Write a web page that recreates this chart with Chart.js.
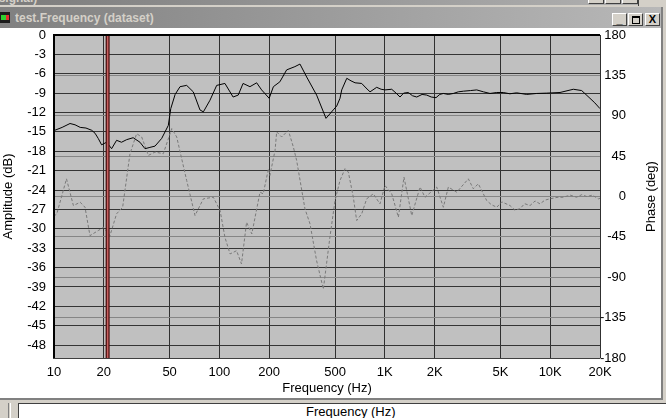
<!DOCTYPE html>
<html>
<head>
<meta charset="utf-8">
<script src="https://cdn.jsdelivr.net/npm/chart.js@4.4.1/dist/chart.umd.min.js"></script>
<style>
html,body{margin:0;padding:0;}
body{width:666px;height:418px;overflow:hidden;background:#d4d0c8;position:relative;font-family:'Liberation Sans',Arial,sans-serif;}
.abs{position:absolute;}
#pbar{left:0;top:0;width:638px;height:5px;background:linear-gradient(to right,#7c7c7c,#b0b0b0);overflow:hidden;}
#pbar span{position:absolute;left:-30px;top:-9px;font:bold 12px 'Liberation Sans',Arial,sans-serif;color:#d4d0c8;white-space:nowrap;}
#pline{left:638px;top:0;width:1px;height:6px;background:#404040;}
.pbtn{top:-10px;width:14px;height:12px;background:#d4d0c8;border-top:1px solid #fff;border-left:1px solid #fff;border-right:1px solid #404040;border-bottom:1px solid #404040;}
#cbar{left:0;top:7px;width:661px;height:21px;background:linear-gradient(to right,#808080,#b8b8b8);}
#ctitle{left:15px;top:10px;font:bold 12px 'Liberation Sans',Arial,sans-serif;color:#d4d0c8;white-space:nowrap;line-height:16px;}
#icon{left:0;top:12px;width:10px;height:11px;background:#1a1a1a;}
#icon i{position:absolute;left:1px;top:3px;width:5px;height:5px;background:#2fd02f;}
#icon b{position:absolute;left:6px;top:3px;width:3px;height:5px;background:#e03030;}
.btn{top:13px;width:13px;height:11px;background:#d4d0c8;border-top:1px solid #fff;border-left:1px solid #fff;border-right:1px solid #404040;border-bottom:1px solid #404040;font:bold 11px 'Liberation Sans',Arial,sans-serif;color:#000;text-align:center;line-height:11px;}
#client{left:0;top:28px;width:661px;height:370px;background:#fff;}
#rb1{left:661px;top:7px;width:2px;height:393px;background:#808080;}
#bb{left:0;top:398px;width:663px;height:2px;background:#808080;}
#bb2{left:0;top:400px;width:666px;height:3px;background:#d4d0c8;}
#bpanel{left:18px;top:403px;width:648px;height:15px;background:#fff;border-top:1px solid #404040;border-left:1px solid #404040;overflow:hidden;}
#bpanel span{position:absolute;left:287px;top:0px;font:13px 'Liberation Sans',Arial,sans-serif;color:#000;white-space:nowrap;}
#lcol1{left:8px;top:403px;width:1px;height:15px;background:#808080;}
#lcol2{left:10px;top:403px;width:1px;height:15px;background:#fff;}
#chart{left:0;top:30px;}
</style>
</head>
<body>
<div class="abs" id="pbar"><span>test (signal)</span></div>
<div class="abs pbtn" style="left:588px"></div>
<div class="abs pbtn" style="left:605px"></div>
<div class="abs pbtn" style="left:622px"></div>
<div class="abs" id="pline"></div>
<div class="abs" id="cbar"></div>
<div class="abs" id="icon"><i></i><b></b></div>
<div class="abs" id="ctitle">test.Frequency (dataset)</div>
<div class="abs btn" style="left:612px">_</div>
<div class="abs btn" style="left:628px"><div style="position:absolute;left:3px;top:2px;width:6px;height:5px;border:1px solid #000;border-top-width:2px;"></div></div>
<div class="abs btn" style="left:645px">X</div>
<div class="abs" id="client"></div>
<div class="abs" id="rb1"></div>
<div class="abs" id="bb"></div>
<div class="abs" id="bb2"></div>
<div class="abs" id="lcol1"></div>
<div class="abs" id="lcol2"></div>
<div class="abs" id="bpanel"><span>Frequency (Hz)</span></div>
<canvas class="abs" id="chart" width="661" height="368"></canvas>
<script>
// ---- data ----
const X_TICKS = [10, 20, 50, 100, 200, 500, 1000, 2000, 5000, 10000, 20000];
const X_LABELS = ['10', '20', '50', '100', '200', '500', '1K', '2K', '5K', '10K', '20K'];
const AMP_TICKS = [0, -3, -6, -9, -12, -15, -18, -21, -24, -27, -30, -33, -36, -39, -42, -45, -48];
const PHASE_TICKS = [180, 135, 90, 45, 0, -45, -90, -135, -180];
const CURSOR_HZ = 21.1;

const AMP_FREQ = [10, 11.2, 12.5, 13.4, 14.4, 15.6, 16.9, 17.7, 18.5, 19.4, 20.8, 22.3, 23.9, 25.6, 27.5, 30.1, 33.1, 35.5, 38, 40.8, 44.8, 49.1, 50.8, 54, 57.8, 63.4, 69.5, 76.3, 80, 87.7, 96.3, 108, 121, 130, 139, 153, 168, 180, 200, 212, 232, 255, 286, 307, 337, 387, 441, 488, 512, 536, 549, 589, 625, 661, 725, 770, 814, 893, 950, 1002, 1101, 1170, 1236, 1300, 1387, 1470, 1560, 1680, 1792, 1910, 2040, 2150, 2259, 2420, 2596, 2780, 2985, 3300, 3595, 3950, 4325, 4750, 5202, 5700, 6266, 7208, 8280, 9500, 11460, 13800, 15490, 17400, 18600, 20000];
const AMP_DB = [-14.8, -14.3, -13.7, -13.9, -14.3, -14.4, -14.75, -15.2, -16.0, -17.0, -16.6, -17.6, -16.3, -16.6, -16.2, -15.9, -16.6, -17.6, -17.4, -17.2, -16.0, -14.0, -11.4, -9.2, -8.0, -7.8, -8.8, -11.6, -11.9, -10.1, -7.8, -7.5, -9.6, -9.3, -7.5, -8.0, -7.4, -8.5, -9.8, -8.0, -7.25, -5.4, -4.9, -4.5, -6.5, -9.3, -12.9, -11.6, -11.0, -9.8, -8.5, -6.7, -7.1, -7.4, -7.5, -8.2, -8.8, -8.1, -8.4, -8.5, -8.4, -9.0, -9.6, -9.0, -8.9, -9.4, -9.6, -9.2, -9.3, -9.6, -9.7, -9.2, -9.05, -9.2, -9.05, -8.8, -8.7, -8.6, -8.5, -8.8, -9.05, -8.9, -8.9, -9.1, -8.95, -9.2, -9.05, -9.0, -8.9, -8.4, -8.6, -9.8, -10.5, -11.4];

const PHASE_FREQ = [10, 10.4, 11.9, 13.1, 14.4, 15.4, 16.5, 18.5, 19.9, 21.8, 23.9, 26.0, 28.8, 31.6, 33.9, 37.2, 40.8, 45.8, 51.5, 55.2, 63.4, 71.2, 80.0, 91.9, 101, 108, 116, 127, 136, 146, 157, 176, 184, 198, 202, 217, 222, 238, 261, 280, 293, 329, 353, 387, 425, 466, 500, 536, 575, 602, 645, 676, 725, 777, 852, 935, 1002, 1101, 1208, 1306, 1455, 1633, 1750, 2060, 2259, 2422, 2722, 3199, 3429, 3675, 4130, 4400, 4750, 5100, 5715, 6100, 6565, 7000, 7550, 8100, 8670, 9300, 9970, 11000, 12000, 13200, 14450, 15500, 16630, 18000, 19540, 20000];
const PHASE_DEG = [-22, -19.3, 19.7, -10.1, -6.4, -12, -43.6, -38, -34.3, -43.6, -19.3, -12, 47.7, 70, 66.3, 45.8, 49.5, 47.7, 75.7, 66.3, 17.9, -21.2, -2.6, -0.8, -15.7, -45.5, -64, -60.4, -75.2, -28.7, -41.7, 4.8, 3, 31, 23.5, 51.4, 72, 66.3, 73.8, 55.1, 40.3, -13.7, -30.5, -71.6, -103.2, -45, -4.5, 17.9, 31, 27.2, -0.8, -26.8, -19.3, -2.6, 3, -8.2, 12.3, 3, -23.1, 21.6, -21.2, 10.5, -0.8, 10.5, -12, 10.5, 4.8, 19.7, 8.6, 14.2, -4.5, -9, -12, -6, -10.1, -15, -13.7, -8, -10.1, -5, -8.2, -4, -2.6, -1, -0.8, 1.5, -0.8, 2, 0, 1.5, -2.6, -2];

// ---- chart ----
const FONT = {family: "'Liberation Sans',Arial,sans-serif", size: 13};
const pts = (xs, ys) => xs.map((x, i) => ({x: x, y: ys[i]}));

const chromePlugin = {
  id: 'chrome',
  beforeDraw(chart) {
    const a = chart.chartArea, c = chart.ctx;
    c.save();
    c.fillStyle = '#c0c0c0';
    c.fillRect(a.left, a.top, a.right - a.left, a.bottom - a.top);
    c.restore();
  },
  afterDraw(chart) {
    const a = chart.chartArea, c = chart.ctx;
    c.save();
    c.fillStyle = '#000';
    c.fillRect(a.left - 1, a.top - 1, a.right - a.left + 1, 2);
    c.fillRect(a.left - 1, a.top - 1, 2, a.bottom - a.top + 1);
    c.fillStyle = '#404040';
    c.fillRect(a.left - 1, a.bottom, a.right - a.left + 1, 1);
    const s = chart.scales.y2;
    c.fillStyle = '#000';
    c.font = FONT.size + 'px ' + FONT.family;
    c.textAlign = 'center';
    c.textBaseline = 'middle';
    c.translate(s.right + 25, (a.top + a.bottom) / 2);
    c.rotate(-Math.PI / 2);
    c.fillText('Phase (deg)', 0, 0);
    c.restore();
  }
};

new Chart(document.getElementById('chart'), {
  type: 'line',
  data: {
    datasets: [
      {data: pts([CURSOR_HZ, CURSOR_HZ], [0, -50]), borderColor: '#c86060', borderWidth: 1.5, yAxisID: 'y'},
      {data: pts([CURSOR_HZ, CURSOR_HZ], [0, -50]), borderColor: '#4a1010', borderWidth: 4, yAxisID: 'y'},
      {data: pts(AMP_FREQ, AMP_DB), borderColor: '#000', borderWidth: 1, yAxisID: 'y'},
      {data: pts(PHASE_FREQ, PHASE_DEG), borderColor: '#7a7a7a', borderWidth: 1, borderDash: [3, 2], yAxisID: 'y2'}
    ]
  },
  options: {
    responsive: false,
    animation: false,
    devicePixelRatio: 1,
    layout: {padding: {left: 0, top: 5, right: 35, bottom: 2}, autoPadding: false},
    plugins: {legend: {display: false}, tooltip: {enabled: false}},
    elements: {point: {radius: 0}, line: {tension: 0}},
    scales: {
      x: {
        type: 'logarithmic', min: 10, max: 20000,
        afterBuildTicks: s => { s.ticks = X_TICKS.map(v => ({value: v})); },
        ticks: {callback: (v, i) => X_LABELS[i], autoSkip: false, maxRotation: 0, minRotation: 0, color: '#000', font: FONT, padding: 7},
        grid: {color: '#303030', drawTicks: false, lineWidth: 1},
        border: {display: false},
        title: {display: true, text: 'Frequency (Hz)', color: '#000', font: FONT, padding: 0},
        afterFit: s => { s.height = 38; s.paddingLeft = 0; s.paddingRight = 0; }
      },
      y: {
        position: 'left', min: -50, max: 0,
        afterBuildTicks: s => { s.ticks = AMP_TICKS.map(v => ({value: v})); },
        ticks: {color: '#000', font: FONT, padding: 8},
        grid: {color: '#353535', drawTicks: false},
        border: {display: false},
        title: {display: true, text: 'Amplitude (dB)', color: '#000', font: FONT, padding: {top: 1, bottom: 0}},
        afterFit: s => { s.width = 54; s.paddingTop = 0; s.paddingBottom = 0; }
      },
      y2: {
        position: 'right', min: -180, max: 180,
        afterBuildTicks: s => { s.ticks = PHASE_TICKS.map(v => ({value: v})); },
        ticks: {color: '#000', font: FONT, crossAlign: 'far'},
        grid: {color: '#858585', drawTicks: false},
        border: {display: false},
        afterFit: s => { s.width = 26; s.paddingTop = 0; s.paddingBottom = 0; }
      }
    }
  },
  plugins: [chromePlugin]
});
</script>
</body>
</html>
